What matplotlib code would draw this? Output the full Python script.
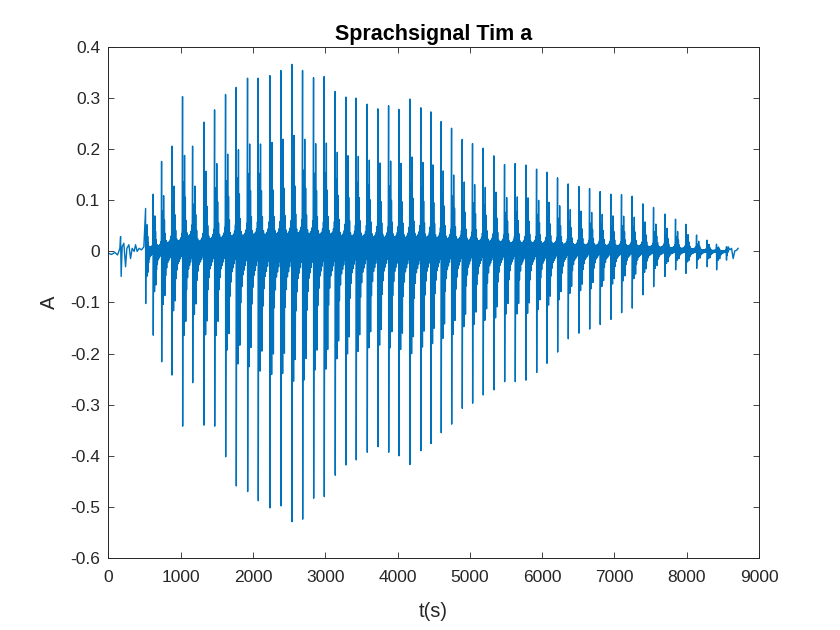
import numpy as np
import matplotlib
matplotlib.use('Agg')
import matplotlib.pyplot as plt

plt.rcParams['font.family'] = ['Liberation Sans', 'DejaVu Sans']
plt.rcParams['axes.unicode_minus'] = False

# quiet part before the vowel (samples, amplitude)
onset_t = [7, 44, 90, 127, 159, 169, 177, 191, 214, 238, 256, 284, 307, 329,
           357, 376, 398, 426, 459, 491]
onset_a = [-0.004, -0.006, -0.002, -0.007, 0.006, 0.029, -0.049, 0.009, 0.016,
           -0.030, 0.006, 0.013, -0.014, 0.006, 0.000, 0.013, 0.000, 0.006,
           0.003, 0.009]

# glottal pulses: sample index, top of spike, bottom of spike
pulse_t = [515, 620, 736, 878, 1026, 1165, 1321, 1469, 1621, 1768, 1925, 2072,
           2234, 2386, 2538, 2686, 2838, 2985, 3137, 3285, 3427, 3580, 3728,
           3876, 4018, 4170, 4322, 4461, 4603, 4747, 4894, 5037, 5184, 5332,
           5480, 5627, 5775, 5923, 6065, 6213, 6360, 6508, 6656, 6802, 6950,
           7098, 7245, 7393, 7541, 7697, 7845, 7988, 8136, 8282, 8412, 8550]
pulse_hi = [0.084, 0.112, 0.176, 0.206, 0.303, 0.206, 0.253, 0.277, 0.307,
            0.321, 0.339, 0.339, 0.344, 0.354, 0.366, 0.354, 0.340, 0.342,
            0.313, 0.302, 0.300, 0.288, 0.279, 0.285, 0.278, 0.298, 0.281,
            0.273, 0.254, 0.241, 0.219, 0.211, 0.202, 0.187, 0.170, 0.172,
            0.169, 0.161, 0.155, 0.144, 0.132, 0.127, 0.123, 0.117, 0.112,
            0.111, 0.108, 0.093, 0.086, 0.073, 0.063, 0.053, 0.032, 0.022,
            0.014, 0.009]
pulse_lo = [-0.102, -0.164, -0.216, -0.242, -0.342, -0.257, -0.340, -0.342,
            -0.402, -0.459, -0.470, -0.488, -0.502, -0.498, -0.529, -0.524,
            -0.483, -0.480, -0.438, -0.418, -0.408, -0.393, -0.382, -0.393,
            -0.400, -0.417, -0.390, -0.376, -0.355, -0.338, -0.307, -0.297,
            -0.281, -0.271, -0.255, -0.255, -0.252, -0.237, -0.219, -0.197,
            -0.171, -0.160, -0.152, -0.143, -0.133, -0.120, -0.111, -0.085,
            -0.069, -0.049, -0.036, -0.043, -0.033, -0.030, -0.036, -0.017]

# shape of one pitch period (phase, relative level)
period_phase = [0.000, 0.012, 0.050, 0.080, 0.120, 0.160, 0.200, 0.240, 0.280,
                0.320, 0.360, 0.400, 0.450, 0.500, 0.550, 0.600, 0.650, 0.700,
                0.750, 0.800, 0.850, 0.890, 0.930, 0.960, 0.980]
period_level = [1.00, -1.00, 0.30, -0.45, 0.45, -0.48, 0.62, -0.36, 0.35,
                -0.40, 0.20, -0.22, 0.12, -0.15, 0.10, -0.10, 0.10, -0.08,
                0.11, -0.06, 0.13, -0.04, 0.17, 0.05, 0.22]

# fading out after the last pulse
tail_t = [8573, 8596, 8620, 8642, 8665, 8689, 8711]
tail_a = [0.009, 0.003, 0.006, -0.014, 0.001, 0.002, 0.006]

ts = list(onset_t)
ys = list(onset_a)
for i in range(len(pulse_t)):
    if i + 1 < len(pulse_t):
        per = pulse_t[i + 1] - pulse_t[i]
    else:
        per = tail_t[0] - pulse_t[i]
    for ph, lv in zip(period_phase, period_level):
        ts.append(pulse_t[i] + ph * per)
        ys.append(lv * pulse_hi[i] if lv > 0 else -lv * pulse_lo[i])
ts += tail_t
ys += tail_a

fig = plt.figure(figsize=(8.4, 6.3), dpi=100)
ax = fig.add_axes([0.129, 0.1143, 0.7746, 0.8111])
ax.plot(ts, ys, color='#0072BD', lw=1.0)

ax.set_xlim(0, 9000)
ax.set_ylim(-0.6, 0.4)
ax.set_xticks(np.arange(0, 9001, 1000))
yt = [-0.6, -0.5, -0.4, -0.3, -0.2, -0.1, 0, 0.1, 0.2, 0.3, 0.4]
ax.set_yticks(yt)
ax.set_yticklabels(['-0.6', '-0.5', '-0.4', '-0.3', '-0.2', '-0.1', '0',
                    '0.1', '0.2', '0.3', '0.4'])
ax.tick_params(direction='in', top=True, right=True, length=4, width=0.6,
               labelsize=12.5, colors='#262626')
ax.tick_params(axis='x', pad=9)
ax.tick_params(axis='y', pad=6)
for s in ax.spines.values():
    s.set_color('#262626')
    s.set_linewidth(0.7)

ax.set_title('Sprachsignal Tim a', fontsize=15.5, fontweight='bold', pad=5)
ax.set_xlabel('t(s)', fontsize=14.5, color='#262626', labelpad=12)
ax.set_ylabel('A', fontsize=14.5, color='#262626', labelpad=8)

fig.savefig('out.png', dpi=100)
